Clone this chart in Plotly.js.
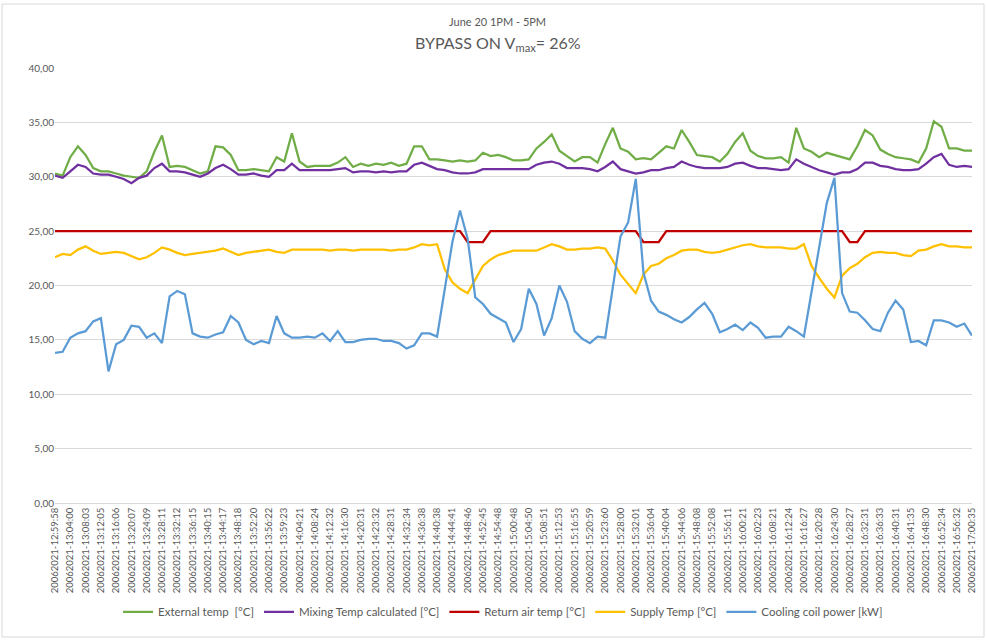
<!DOCTYPE html>
<html>
<head>
<meta charset="utf-8">
<script src="https://cdn.plot.ly/plotly-3.0.1.min.js"></script>
<style>
  html, body { margin: 0; padding: 0; background: #ffffff; }
  #chart { width: 986px; height: 642px; }
</style>
</head>
<body>
<div id="chart"></div>
<script>
// Tick labels (every 4 minutes)
const tickLabels = [
  "20062021-12:59:58","20062021-13:04:00","20062021-13:08:03","20062021-13:12:05","20062021-13:16:06",
  "20062021-13:20:07","20062021-13:24:09","20062021-13:28:11","20062021-13:32:12","20062021-13:36:15",
  "20062021-13:40:15","20062021-13:44:17","20062021-13:48:18","20062021-13:52:20","20062021-13:56:22",
  "20062021-13:59:23","20062021-14:04:21","20062021-14:08:24","20062021-14:12:32","20062021-14:16:30",
  "20062021-14:20:31","20062021-14:23:32","20062021-14:28:31","20062021-14:32:34","20062021-14:36:38",
  "20062021-14:40:38","20062021-14:44:41","20062021-14:48:46","20062021-14:52:45","20062021-14:54:48",
  "20062021-15:00:48","20062021-15:04:50","20062021-15:08:51","20062021-15:12:53","20062021-15:16:55",
  "20062021-15:20:59","20062021-15:23:60","20062021-15:28:00","20062021-15:32:01","20062021-15:36:04",
  "20062021-15:40:04","20062021-15:44:06","20062021-15:48:08","20062021-15:52:08","20062021-15:56:11",
  "20062021-16:00:21","20062021-16:02:23","20062021-16:08:21","20062021-16:12:24","20062021-16:16:27",
  "20062021-16:20:28","20062021-16:24:30","20062021-16:28:27","20062021-16:32:31","20062021-16:36:33",
  "20062021-16:40:31","20062021-16:41:35","20062021-16:48:30","20062021-16:52:34","20062021-16:56:32",
  "20062021-17:00:35"
];

// Series samples (every ~2 minutes, 121 samples)
const externalTemp = [
  30.3,30.1,31.8,32.8,32.0,30.8,30.5,30.5,30.3,30.1,
  30.0,29.9,30.5,32.3,33.8,30.9,31.0,30.9,30.6,30.3,
  30.5,32.8,32.7,32.0,30.6,30.6,30.7,30.6,30.5,31.8,
  31.4,34.0,31.4,30.9,31.0,31.0,31.0,31.3,31.8,30.9,
  31.2,31.0,31.2,31.1,31.3,31.0,31.2,32.8,32.8,31.6,
  31.6,31.5,31.4,31.5,31.4,31.5,32.2,31.9,32.0,31.8,
  31.5,31.5,31.6,32.6,33.2,33.9,32.4,31.9,31.4,31.8,
  31.8,31.3,33.0,34.5,32.6,32.3,31.6,31.7,31.6,32.2,
  32.8,32.6,34.3,33.2,32.0,31.9,31.8,31.4,32.1,33.2,
  34.0,32.4,31.9,31.7,31.7,31.8,31.3,34.5,32.6,32.3,
  31.8,32.2,32.0,31.8,31.6,32.8,34.3,33.8,32.5,32.1,
  31.8,31.7,31.6,31.3,32.6,35.1,34.6,32.6,32.6,32.4,
  32.4
];
const mixingTemp = [
  30.1,29.9,30.5,31.1,30.9,30.3,30.2,30.2,30.0,29.8,
  29.4,29.9,30.1,30.8,31.2,30.5,30.5,30.4,30.2,30.0,
  30.3,30.8,31.1,30.7,30.2,30.2,30.3,30.1,30.0,30.6,
  30.6,31.2,30.6,30.6,30.6,30.6,30.6,30.7,30.8,30.4,
  30.5,30.5,30.4,30.5,30.4,30.5,30.5,31.1,31.3,31.0,
  30.7,30.6,30.4,30.3,30.3,30.4,30.7,30.7,30.7,30.7,
  30.7,30.7,30.7,31.1,31.3,31.4,31.2,30.8,30.8,30.8,
  30.7,30.5,30.9,31.4,30.7,30.5,30.3,30.4,30.6,30.6,
  30.8,30.9,31.4,31.1,30.9,30.8,30.8,30.8,30.9,31.2,
  31.3,31.0,30.8,30.8,30.7,30.6,30.7,31.6,31.2,30.9,
  30.6,30.4,30.2,30.4,30.4,30.7,31.3,31.3,31.0,30.9,
  30.7,30.6,30.6,30.7,31.2,31.8,32.1,31.1,30.9,31.0,
  30.9
];
const returnAirTemp = [
  25,25,25,25,25,25,25,25,25,25,
  25,25,25,25,25,25,25,25,25,25,
  25,25,25,25,25,25,25,25,25,25,
  25,25,25,25,25,25,25,25,25,25,
  25,25,25,25,25,25,25,25,25,25,
  25,25,25,25,24,24,24,25,25,25,
  25,25,25,25,25,25,25,25,25,25,
  25,25,25,25,25,25,25,24,24,24,
  25,25,25,25,25,25,25,25,25,25,
  25,25,25,25,25,25,25,25,25,25,
  25,25,25,25,24,24,25,25,25,25,
  25,25,25,25,25,25,25,25,25,25,
  25
];
const supplyTemp = [
  22.6,22.9,22.8,23.3,23.6,23.2,22.9,23.0,23.1,23.0,
  22.7,22.4,22.6,23.0,23.5,23.3,23.0,22.8,22.9,23.0,
  23.1,23.2,23.4,23.1,22.8,23.0,23.1,23.2,23.3,23.1,
  23.0,23.3,23.3,23.3,23.3,23.3,23.2,23.3,23.3,23.2,
  23.3,23.3,23.3,23.3,23.2,23.3,23.3,23.5,23.8,23.7,
  23.8,21.5,20.3,19.7,19.3,20.6,21.8,22.4,22.8,23.0,
  23.2,23.2,23.2,23.2,23.5,23.8,23.6,23.3,23.3,23.4,
  23.4,23.5,23.4,22.3,21.0,20.1,19.3,21.0,21.8,22.0,
  22.5,22.8,23.2,23.3,23.3,23.1,23.0,23.1,23.3,23.5,
  23.7,23.8,23.6,23.5,23.5,23.5,23.4,23.4,23.8,21.8,
  20.7,19.7,18.9,20.9,21.6,22.0,22.6,23.0,23.1,23.0,
  23.0,22.8,22.7,23.2,23.3,23.6,23.8,23.6,23.6,23.5,
  23.5
];
const coolingCoilPower = [
  13.8,13.9,15.2,15.6,15.8,16.7,17.0,12.1,14.6,15.0,
  16.3,16.2,15.2,15.6,14.7,19.0,19.5,19.2,15.6,15.3,
  15.2,15.5,15.7,17.2,16.6,15.0,14.6,14.9,14.7,17.2,
  15.6,15.2,15.2,15.3,15.2,15.6,14.9,15.8,14.8,14.8,
  15.0,15.1,15.1,14.9,14.9,14.7,14.2,14.5,15.6,15.6,
  15.3,19.6,24.0,26.9,24.3,18.9,18.3,17.4,17.0,16.6,
  14.8,16.0,19.7,18.3,15.4,17.0,20.0,18.5,15.8,15.1,
  14.7,15.3,15.2,20.0,24.5,25.8,29.8,21.2,18.6,17.6,
  17.3,16.9,16.6,17.1,17.8,18.4,17.4,15.7,16.0,16.4,
  15.9,16.6,16.1,15.2,15.3,15.3,16.2,15.8,15.3,19.4,
  23.5,27.6,29.9,19.3,17.6,17.5,16.8,16.0,15.8,17.5,
  18.6,17.8,14.8,14.9,14.5,16.8,16.8,16.6,16.2,16.5,
  15.4
];
const seriesNames = [
  "External temp  [°C]",
  "Mixing Temp calculated [°C]",
  "Return air temp [°C]",
  "Supply Temp [°C]",
  "Cooling coil power [kW]"
];
const yTickVals = [0,5,10,15,20,25,30,35,40];
const yTickText = ["0,00","5,00","10,00","15,00","20,00","25,00","30,00","35,00","40,00"];

const colors = ["#70AD47","#7030A0","#C00000","#FFC000","#5B9BD5"];
const allSeries = [externalTemp, mixingTemp, returnAirTemp, supplyTemp, coolingCoilPower];
const xIdx = externalTemp.map((_, i) => i);
const tickVals = tickLabels.map((_, i) => i * 2);

const traces = allSeries.map((ys, k) => ({
  x: xIdx,
  y: ys,
  type: "scatter",
  mode: "lines",
  name: seriesNames[k],
  line: { color: colors[k], width: 2.25 },
  hoverinfo: "skip"
}));

const layout = {
  width: 986,
  height: 642,
  margin: { l: 55, r: 14, t: 68, b: 139 },
  paper_bgcolor: "#ffffff",
  plot_bgcolor: "#ffffff",
  font: { family: "Lato, 'Open Sans', sans-serif", color: "#595959" },
  showlegend: true,
  legend: {
    orientation: "h",
    x: 0.4886, xanchor: "center",
    y: -0.25, yanchor: "middle",
    font: { size: 11.5, color: "#595959" },
    itemwidth: 30,
    tracegroupgap: 0
  },
  xaxis: {
    range: [0, 120],
    tickmode: "array",
    tickvals: tickVals,
    ticktext: tickLabels,
    tickangle: -90,
    tickfont: { size: 9.5, color: "#595959" },
    showgrid: false,
    zeroline: false,
    showline: true,
    linecolor: "#d9d9d9",
    linewidth: 1,
    ticks: "",
    fixedrange: true
  },
  yaxis: {
    range: [0, 40],
    tickmode: "array",
    tickvals: yTickVals,
    ticktext: yTickText,
    tickfont: { size: 10, color: "#595959" },
    showgrid: true,
    gridcolor: "#d9d9d9",
    gridwidth: 1,
    zeroline: false,
    showline: false,
    ticks: "",
    fixedrange: true
  },
  annotations: [
    {
      xref: "paper", yref: "paper",
      x: 0.483, y: 1.106, xanchor: "center", yanchor: "middle",
      text: "June 20 1PM - 5PM",
      showarrow: false,
      font: { size: 11, color: "#595959" }
    },
    {
      xref: "paper", yref: "paper",
      x: 0.483, y: 1.057, xanchor: "center", yanchor: "middle",
      text: "BYPASS ON V<sub>max</sub>= 26%",
      showarrow: false,
      font: { size: 16, color: "#595959" }
    }
  ],
  shapes: [
    {
      type: "rect", xref: "paper", yref: "paper",
      x0: -0.0578, x1: 1.0131, y0: -0.308, y1: 1.147,
      line: { color: "#d9d9d9", width: 1 },
      fillcolor: "rgba(0,0,0,0)",
      layer: "below"
    }
  ]
};

Plotly.newPlot("chart", traces, layout, { displayModeBar: false, staticPlot: true });
</script>
</body>
</html>
